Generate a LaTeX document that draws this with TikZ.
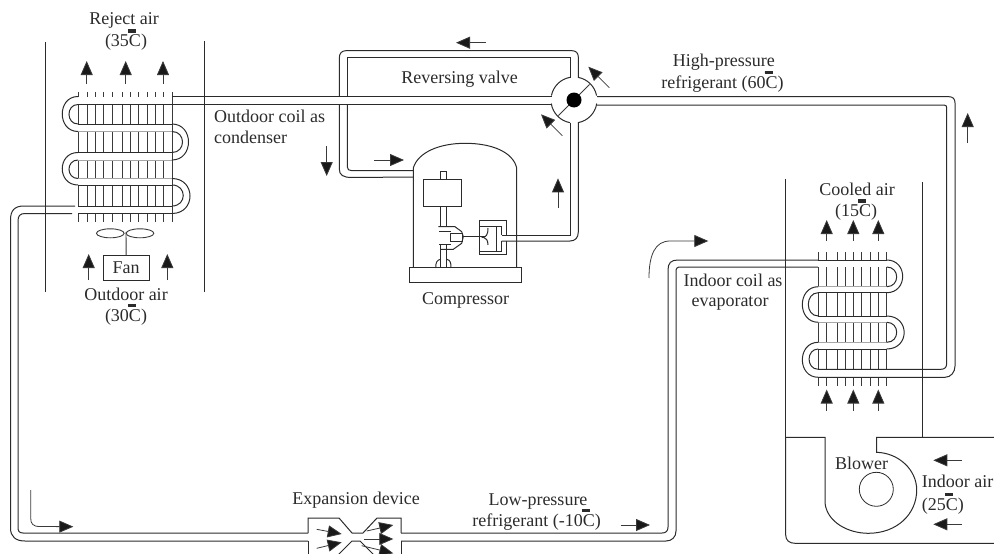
\documentclass[tikz,border=0pt]{standalone}
\usepackage{fontspec}
\setmainfont{Liberation Serif}
\usetikzlibrary{arrows.meta,calc,positioning}
\definecolor{PipeInk}{HTML}{2B2B2B}
\definecolor{FinInk}{HTML}{3A3A3A}
\newcommand{\degC}{\makebox[0pt][l]{\hspace{-1pt}\smash{\raisebox{.78em}{\makebox[0pt][l]{\raisebox{-2.4pt}{\fontsize{7}{7}\selectfont °}}\rule[0pt]{8pt}{3.2pt}}}}C}
\tikzset{
  lbl/.style={anchor=base,inner sep=0pt,text=PipeInk,font=\fontsize{18}{21}\selectfont},
  lblleft/.style={lbl,anchor=base west},
  wall/.style={draw=PipeInk,line width=1pt},
  pipe/.style={draw=PipeInk,line width=1pt,fill=none},
  palepipe/.style={draw=black!35,line width=.8pt},
  fin/.style={draw=FinInk,line width=.9pt},
  flow/.style={draw=FinInk,line width=.8pt,-{Triangle[length=14pt,width=12pt,fill=black!90]}}
}
\begin{document}
\begin{tikzpicture}[x=1pt,y=-1pt]
  \useasboundingbox (0,0) rectangle (994,554);
  % outdoor duct
  \draw[wall] (45,42)--(45,292);
  \draw[wall] (204.5,41)--(204.5,292);
  % fins
  \foreach \x in {78,87,95,103,112,122,130,138,147,155,163,172}
    \draw[fin] (\x,92)--(\x,222);
  % outdoor coil tubes, white so that they hide the fins
  \foreach \a/\b in {96.5/104.5,124/131.5,152.5/160,178.5/185,206/213.5}
    \fill[white] (78,\a+.5) rectangle (172,\b-.5);
  \foreach \a in {104.5,124,152.5,185,206,213.5}
    \draw[pipe] (78,\a)--(172,\a);
  \foreach \a in {131.5,160,178.5}
    \draw[palepipe] (78,\a)--(172,\a);
  \draw[pipe] (78,96.5)..controls (57,96.5) and (57,131.5)..(78,131.5);
  \draw[pipe] (78,104.5)..controls (66,104.5) and (66,124)..(78,124);
  \draw[pipe] (172,124)..controls (194,124) and (194,160)..(172,160);
  \draw[pipe] (172,131.5)..controls (186,131.5) and (186,152.5)..(172,152.5);
  \draw[pipe] (78,152.5)..controls (57,152.5) and (57,185)..(78,185);
  \draw[pipe] (78,160)..controls (66,160) and (66,178.5)..(78,178.5);
  \draw[pipe] (172,178.5)..controls (196,178.5) and (196,213.5)..(172,213.5);
  \draw[pipe] (172,185)..controls (187,185) and (187,206)..(172,206);
  % fan
  \node[draw=PipeInk,line width=.8pt,minimum width=45.7pt,minimum height=25pt,inner sep=0pt] (fan) at (126.2,268.2) {};
  \node[lbl] (fanlabel) at (126,273.5) {Fan};
  \draw[fin] (126,232)--(fan.north);
  \draw[fin] (110.3,233.3) ellipse (13.8 and 4.5);
  \draw[fin] (140,233.3) ellipse (13.8 and 4.5);
  % outdoor air
  \foreach \x in {86.7,125.7,163}
    \draw[flow] (\x,84)--(\x,61);
  \foreach \x in {88.7,167.3}
    \draw[flow] (\x,280)--(\x,254);
  % liquid line to the expansion device
  \draw[pipe] (75,206)--(24,206)..controls (14,206) and (10.5,211)..(10.5,220)--(10.5,528)
    ..controls (10.5,537) and (16,541)..(25,541)--(308,541);
  \draw[pipe] (72,213.5)--(25,213.5)..controls (20,213.5) and (18,216)..(18,221)--(18,527)
    ..controls (18,531) and (19,533)..(23,533)--(308,533);
  % expansion device
  \draw[pipe] (308,555)--(308,541);
  \draw[pipe] (308,533)--(308,518)--(339,518)--(352,533)--(363,533)--(377,518)--(401,518)--(401,533);
  \draw[pipe] (338,555)--(352,541)--(360,541)--(374,555);
  \draw[pipe] (401,541)--(401,555);
  \draw[flow] (316.7,529.3)--(341.7,534);
  \draw[flow] (316.7,548.3)--(341.7,542.3);
  \draw[flow] (366.7,531)--(393.3,525);
  \draw[flow] (364.3,539)--(393.3,539);
  \draw[flow] (361.7,545.7)--(393.3,553.3);
  % suction line to the indoor coil
  \draw[pipe] (401,533)--(662,533)..controls (666,533) and (668,531)..(668,527)--(668,270)
    ..controls (668,263) and (671,260)..(678,260)--(818,260);
  \draw[pipe] (401,541)--(666,541)..controls (672,541) and (676,537)..(676,531)--(676,272)
    ..controls (676,268) and (677,267)..(681,267)--(818,267);
  % indoor duct
  \draw[wall] (785.3,179)--(785.3,437.3);
  \draw[wall] (922,182)--(922,437.3);
  \foreach \x in {818.3,826.7,837.3,845.3,853.3,861.7,870,878.3,886.7}
    \draw[fin] (\x,252)--(\x,386);
  \foreach \a/\b in {260/267,286.7/292.7,316/322.3,342.3/349,369.3/377.3}
    \fill[white] (818.3,\a+.5) rectangle (886.7,\b-.5);
  \foreach \a in {260,292.7,316,349,369.3}
    \draw[pipe] (818.3,\a)--(886.7,\a);
  \foreach \a in {286.7,322.3,342.3}
    \draw[palepipe] (818.3,\a)--(886.7,\a);
  \draw[pipe] (886.7,260)..controls (908,260) and (908,292.7)..(886.7,292.7);
  \draw[pipe] (886.7,267)..controls (900,267) and (900,286.7)..(886.7,286.7);
  \draw[pipe] (818.3,286.7)..controls (797,286.7) and (797,322.3)..(818.3,322.3);
  \draw[pipe] (818.3,292.7)..controls (805,292.7) and (805,316)..(818.3,316);
  \draw[pipe] (886.7,316)..controls (910,316) and (910,349)..(886.7,349);
  \draw[pipe] (886.7,322.3)..controls (900,322.3) and (900,342.3)..(886.7,342.3);
  \draw[pipe] (818.3,342.3)..controls (797,342.3) and (797,377.3)..(818.3,377.3);
  \draw[pipe] (818.3,349)..controls (806,349) and (806,369.3)..(818.3,369.3);
  % indoor coil back to the valve
  \draw[pipe] (818.3,369.3)--(941,369.3)..controls (945,369.3) and (946.7,367)..(946.7,363)--(946.7,108)
    ..controls (946.7,106) and (946,105)..(944,105)--(597,105);
  \draw[pipe] (818.3,377.3)--(945,377.3)..controls (951,377.3) and (955,372)..(955,366)--(955,103)
    ..controls (955,99) and (953,96.7)..(949,96.7)--(597,96.7);
  \foreach \x in {826.7,853.3,878.3} {
    \draw[flow] (\x,241)--(\x,220);
    \draw[flow] (\x,410.7)--(\x,389.5);
  }
  % blower housing
  \draw[pipe] (994,543.3)--(795,543.3)..controls (789,543.3) and (785.7,540)..(785.7,535)--(785.7,437.3)--(825,437.3)--(825,503)
    ..controls (827,522) and (848,533.3)..(868.3,533.3)
    ..controls (897,533.3) and (916.7,514)..(916.7,490)
    ..controls (916.7,470) and (899,453)..(876.7,452.3)--(876.7,437.3)--(994,437.3);
  \node[draw=PipeInk,line width=.8pt,circle,minimum size=34pt,inner sep=0pt] (fanwheel) at (876.3,489.3) {};
  \draw[flow] (961.7,460.3)--(933.3,460.3);
  \draw[flow] (961.7,524.3)--(933.3,524.3);
  % reversing valve
  \coordinate (valve) at (574,100);
  \draw[pipe] ($(valve)+(80:23)$) arc (80:9:23);
  \draw[pipe] ($(valve)+(-11:23)$) arc (-11:-80:23);
  \draw[pipe] ($(valve)+(-100:23)$) arc (-100:-169:23);
  \draw[pipe] ($(valve)+(171:23)$) arc (171:100:23);
  \draw[fin] ($(valve)+(135:22)$)--($(valve)+(-45:22)$);
  \fill[black] (valve) circle (7.5);
  % loop over the top and into the compressor
  \draw[pipe] (578.3,77.5)--(578.3,57)..controls (578.3,53) and (576,50.7)..(572,50.7)--(346,50.7)
    ..controls (342,50.7) and (339.3,53)..(339.3,58)--(339.3,96.5);
  \draw[pipe] (339.3,104.5)--(339.3,169)..controls (339.3,175) and (343,177.5)..(352,177.5)--(413.3,177);
  \draw[pipe] (570,77.5)--(570,57.3)--(347.3,57.3)--(347.3,96.5);
  \draw[pipe] (347.3,104.5)--(347.3,167)..controls (347.3,169.5) and (349,170.7)..(352,170.7)--(413.3,170.7);
  \draw[pipe] (552,96.5)--(172,96.5);
  \draw[pipe] (552,104.5)--(172,104.5);
  % compressor shell
  \draw[pipe] (413.3,267.7)--(413.3,168)..controls (418,152) and (440,143.3)..(465,143.3)
    ..controls (492,143.3) and (513,152)..(516.7,168)--(516.7,267.7);
  \node[draw=PipeInk,line width=.9pt,minimum width=111.7pt,minimum height=15pt,inner sep=0pt] (base) at (465.2,275.2) {};
  \node[draw=PipeInk,line width=.9pt,minimum width=38pt,minimum height=27pt,inner sep=0pt] (motor) at (442.3,192.5) {};
  % shaft and crank
  \draw[pipe] (440.7,179)--(440.7,171)--(446.7,171)--(446.7,179);
  \draw[pipe] (440.7,206)--(440.7,227);
  \draw[pipe] (446.7,206)--(446.7,227);
  \draw[pipe] (438.3,226.7)--(455,226.7)--(461.7,231.7)--(463.3,236.7)--(461.7,243.3)--(453.3,249.3)--(440,249.3);
  \draw[pipe] (439,231)--(450.7,231);
  \draw[pipe] (439,244)--(450.7,244);
  \draw[pipe] (450.7,233.3)--(462.7,233.3)--(462.7,241.7)--(450.7,241.7)--cycle;
  \draw[pipe] (440.7,244)--(440.7,268);
  \draw[pipe] (446.7,244)--(446.7,268);
  \draw[pipe] (435.7,268)..controls (435.7,262) and (437,260)..(440.7,259.3);
  \draw[pipe] (446.7,259.3)..controls (450,260) and (451,262)..(451,268);
  % piston and cylinder
  \draw[pipe] (462.7,236.7)--(486,236.7);
  \draw[pipe] (481.7,237.5)..controls (486,237.5) and (488,235)..(488,228);
  \draw[pipe] (483,237)..controls (486,238) and (488,240)..(488,245);
  \draw[pipe] (506.7,235)--(506.7,220.7)--(479.3,220.7)--(479.3,254)--(506.7,254)--(506.7,241);
  \draw[pipe] (501.7,235)--(501.7,226.7)--(479.3,226.7);
  \draw[pipe] (501.7,241)--(501.7,251.7)--(479.3,251.7);
  \draw[pipe] (496.7,226.7)--(496.7,251.7);
  % discharge line to the valve
  \draw[pipe] (501.7,235)--(570.7,235)--(570.7,122.5);
  \draw[pipe] (501.7,241)--(570,241)..controls (575,241) and (578.3,238)..(578.3,232)--(578.3,122.5);
  % refrigerant arrows
  \draw[flow] (485.7,42.7)--(456,42.7);
  \draw[flow] (609.3,87.7)--(588.3,66.7);
  \draw[flow] (562.3,135.7)--(541,114.3);
  \draw[flow] (326.7,146)--(326.7,176);
  \draw[flow] (374,160)--(404,160);
  \draw[flow] (558,207.7)--(558,178.3);
  \draw[flow] (967.7,143)--(967.7,113);
  \draw[flow] (649,278)..controls (649,255) and (655,241)..(670,241)--(708.3,241);
  \draw[flow] (30.7,490)--(30.7,518)..controls (30.7,524) and (33,526.5)..(40,526.5)--(73.3,526.7);
  \draw[flow] (620.7,525)--(650,525);
  % labels
  \node[lbl] (rejectair) at (124,24) {Reject air};
  \node[lbl] (rejecttemp) at (126,46.7) {(35\degC)};
  \node[lbl] (outdoorair) at (126,300.5) {Outdoor air};
  \node[lbl] (outdoortemp) at (126,321.5) {(30\degC)};
  \node[lblleft] (outdoorcoil) at (214,122.7) {Outdoor coil as};
  \node[lblleft] (condenser) at (214,143.3) {condenser};
  \node[lbl] (reversing) at (459.5,83.3) {Reversing valve};
  \node[lbl] (compressor) at (465.7,304) {Compressor};
  \node[lbl] (highp) at (723.8,66) {High-pressure};
  \node[lbl] (hightemp) at (722.5,88.3) {refrigerant (60\degC)};
  \node[lbl] (cooled) at (857,195) {Cooled air};
  \node[lbl] (cooledtemp) at (856,216.7) {(15\degC)};
  \node[lbl] (indoorcoil) at (733,286) {Indoor coil as};
  \node[lbl] (evaporator) at (730,306.7) {evaporator};
  \node[lbl] (blower) at (861.5,469) {Blower};
  \node[lblleft] (indoorair) at (921.7,487.7) {Indoor air};
  \node[lblleft] (indoortemp) at (921.7,510) {(25\degC)};
  \node[lbl] (expansion) at (356,504) {Expansion device};
  \node[lbl] (lowp) at (538,505) {Low-pressure};
  \node[lbl] (lowtemp) at (536.7,526) {refrigerant (-10\degC)};
\end{tikzpicture}
\end{document}
